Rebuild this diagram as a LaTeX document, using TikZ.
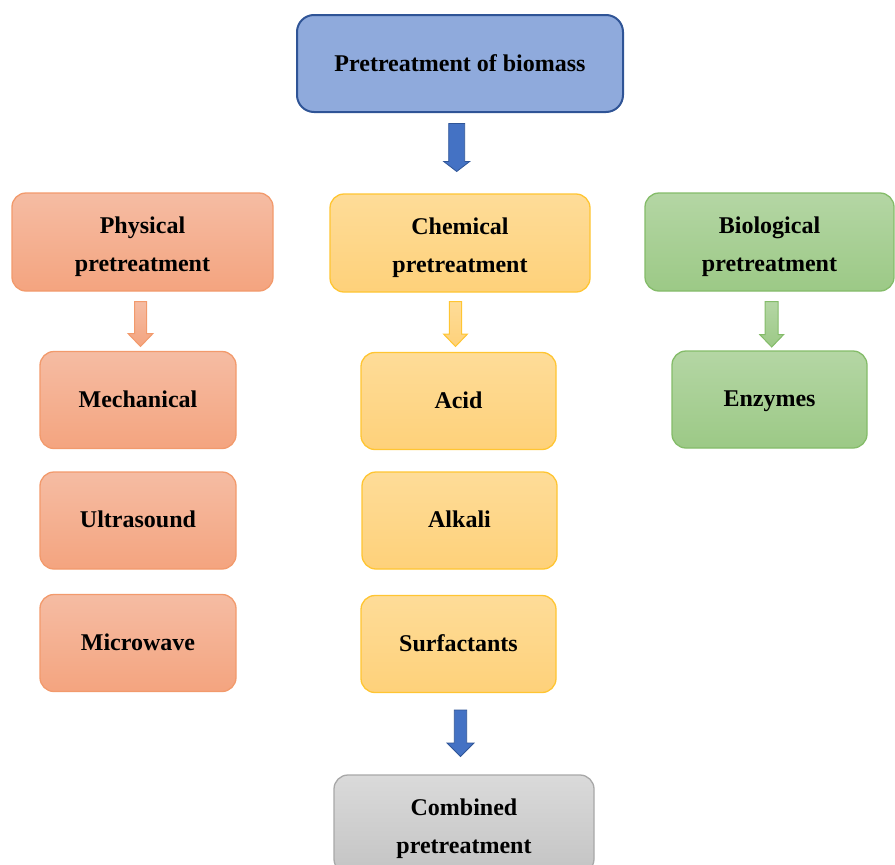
\documentclass[tikz,border=0pt]{standalone}
\usepackage{fontspec}
\setmainfont{Liberation Serif}
\definecolor{blueF}{HTML}{8FAADC}
\definecolor{blueB}{HTML}{2F5496}
\definecolor{arrBlue}{HTML}{4472C4}
\definecolor{arrBlueB}{HTML}{2F5597}
\definecolor{physT}{HTML}{F5BCA3}
\definecolor{physBot}{HTML}{F4A47F}
\definecolor{physB}{HTML}{F29A6C}
\definecolor{chemT}{HTML}{FEDC98}
\definecolor{chemBot}{HTML}{FED17A}
\definecolor{chemB}{HTML}{FFC532}
\definecolor{bioT}{HTML}{B4D6A4}
\definecolor{bioBot}{HTML}{9CC986}
\definecolor{bioB}{HTML}{84BC69}
\definecolor{grayT}{HTML}{DADADA}
\definecolor{grayBot}{HTML}{C4C4C4}
\definecolor{grayB}{HTML}{A8A8A8}
\newcommand\blockarr[7]{%
  \path[#1] (#2-#5,#3) -- (#2+#5,#3) -- (#2+#5,#4-#7) -- (#2+#6,#4-#7) -- (#2,#4)
    -- (#2-#6,#4-#7) -- (#2-#5,#4-#7) -- cycle;}
\newcommand\firststrut{\rule{0pt}{25.2pt}}
\begin{document}
\begin{tikzpicture}[x=1pt,y=-1pt,
  box/.style={rectangle, rounded corners=14pt, line width=1.3pt, align=center,
    font=\fontsize{24}{38}\selectfont\bfseries, text=black, inner sep=0pt},
  topbox/.style={box, rounded corners=17pt, line width=2pt, draw=blueB, fill=blueF,
    text height=21.4pt, text depth=5pt},
  physbox/.style={box, draw=physB, top color=physT, bottom color=physBot},
  chembox/.style={box, draw=chemB, top color=chemT, bottom color=chemBot},
  biobox/.style={box, draw=bioB, top color=bioT, bottom color=bioBot},
  graybox/.style={box, draw=grayB, top color=grayT, bottom color=grayBot},
  bluearr/.style={draw=arrBlueB, line width=0.8pt, fill=arrBlue},
  physarr/.style={draw=physB, line width=1pt, top color=physT, bottom color=physBot},
  chemarr/.style={draw=chemB, line width=1pt, top color=chemT, bottom color=chemBot},
  bioarr/.style={draw=bioB, line width=1pt, top color=bioT, bottom color=bioBot},
  sub/.style={minimum width=196pt, minimum height=97pt, text height=19.6pt, text depth=5pt},
  cat/.style={minimum width=260pt, minimum height=98pt}
]
\useasboundingbox (0,0) rectangle (895,865);

\node[topbox, minimum width=326pt, minimum height=97pt] (top) at (460,63.5) {Pretreatment of biomass};

\node[physbox, cat, minimum width=261pt] (phys) at (142.5,242) {\firststrut Physical\\pretreatment};
\node[chembox, cat] (chem) at (460,243) {\firststrut Chemical\\pretreatment};
\node[biobox, cat, minimum width=249pt] (bio) at (769.5,242) {\firststrut Biological\\pretreatment};

\node[physbox, sub] (mech) at (138,400) {Mechanical};
\node[physbox, sub] (ultra) at (138,520.5) {Ultrasound};
\node[physbox, sub] (micro) at (138,643) {Microwave};

\node[chembox, sub, minimum width=195pt] (acid) at (458.5,401) {Acid};
\node[chembox, sub, minimum width=195pt] (alkali) at (459.5,520.5) {Alkali};
\node[chembox, sub, minimum width=195pt] (surf) at (458.5,644) {Surfactants};

\node[biobox, sub, minimum width=195pt] (enz) at (769.5,399.5) {Enzymes};

\node[graybox, cat, minimum height=98pt] (comb) at (464,824) {\firststrut Combined\\pretreatment};

% block arrows
\blockarr{bluearr}{456.7}{123.5}{171.5}{8}{13}{10}
\blockarr{physarr}{140.5}{301.7}{346.5}{6}{12.5}{13}
\blockarr{chemarr}{455.5}{301.7}{346.5}{6.2}{12}{12.5}
\blockarr{bioarr}{771.7}{301.7}{347}{6.5}{12}{12.5}
\blockarr{bluearr}{460.5}{710}{756.5}{6.2}{13.5}{13.5}
\end{tikzpicture}
\end{document}
